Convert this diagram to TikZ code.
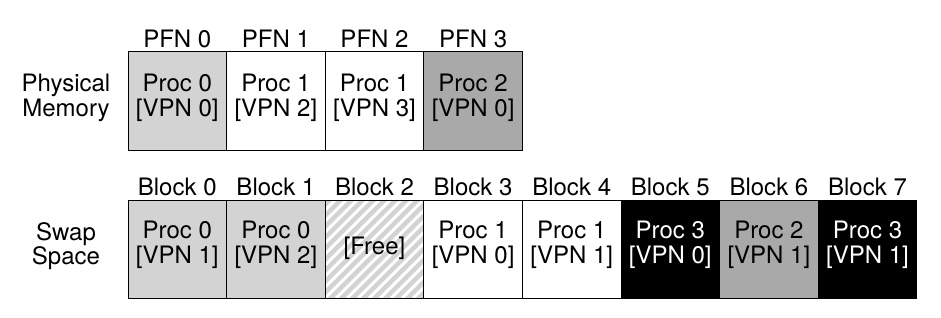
\documentclass[tikz,border=0pt]{standalone}
\usepackage{fontspec}
\setmainfont{TeX Gyre Heros}
\definecolor{pagelight}{HTML}{D3D3D3}
\definecolor{pagedark}{HTML}{A9A9A9}
\begin{document}
\begin{tikzpicture}[x=1pt,y=-1pt,
  txt/.style={font=\fontsize{24}{24.5}\selectfont, inner sep=0pt, outer sep=0pt, align=center},
  cellbox/.style={draw=black, line width=1pt, minimum width=98.6pt,
    minimum height=98pt, inner sep=0pt, outer sep=0pt, anchor=north west},
  light/.style={cellbox, fill=pagelight},
  dark/.style={cellbox, fill=pagedark},
  blank/.style={cellbox, fill=white},
  inverse/.style={cellbox, fill=black},
  rowlabel/.style={txt},
  collabel/.style={txt, anchor=base}
]
\useasboundingbox (0,0) rectangle (941,318);

% Physical memory
\node[rowlabel] (pmlabel) at (66,98) {Physical\\Memory};
\node[light]   (pfn0) at (128.0,52) {};
\node[blank]   (pfn1) at (226.6,52) {};
\node[blank]   (pfn2) at (325.2,52) {};
\node[dark]    (pfn3) at (423.8,52) {};
\node[txt] (pfntext0) at ([yshift=3pt]pfn0.center) {Proc 0\\{[VPN 0]}};
\node[txt] (pfntext1) at ([yshift=3pt]pfn1.center) {Proc 1\\{[VPN 2]}};
\node[txt] (pfntext2) at ([yshift=3pt]pfn2.center) {Proc 1\\{[VPN 3]}};
\node[txt] (pfntext3) at ([yshift=3pt]pfn3.center) {Proc 2\\{[VPN 0]}};
\foreach \i in {0,...,3}
  \node[collabel] (pfnlabel\i) at ([yshift=4.5pt]pfn\i.north) {PFN \i};

% Swap space
\node[rowlabel] (swaplabel) at (66,246) {Swap\\Space};
\node[light]   (blk0) at (128.0,200) {};
\node[light]   (blk1) at (226.6,200) {};
\node[cellbox] (blk2) at (325.2,200) {};
\node[blank]   (blk3) at (423.8,200) {};
\node[blank]   (blk4) at (522.4,200) {};
\node[inverse] (blk5) at (621.0,200) {};
\node[dark]    (blk6) at (719.6,200) {};
\node[inverse] (blk7) at (818.2,200) {};

% free block: light grey with white diagonal stripes
\begin{scope}
  \clip (blk2.south west) rectangle (blk2.north east);
  \fill[pagelight] (blk2.south west) rectangle (blk2.north east);
  \foreach \k in {-110,-99,...,110}
    \draw[white, line width=3pt] ([xshift=\k pt]blk2.south west) -- ++(110,-110);
\end{scope}
\draw[line width=1pt] (blk2.south west) rectangle (blk2.north east);

\node[txt] (blktext0) at ([yshift=4pt]blk0.center) {Proc 0\\{[VPN 1]}};
\node[txt] (blktext1) at ([yshift=4pt]blk1.center) {Proc 0\\{[VPN 2]}};
\node[txt] (blktext2) at ([yshift=1pt]blk2.center) {[Free]};
\node[txt] (blktext3) at ([yshift=4pt]blk3.center) {Proc 1\\{[VPN 0]}};
\node[txt] (blktext4) at ([yshift=4pt]blk4.center) {Proc 1\\{[VPN 1]}};
\node[txt, text=white] (blktext5) at ([yshift=4pt]blk5.center) {Proc 3\\{[VPN 0]}};
\node[txt] (blktext6) at ([yshift=4pt]blk6.center) {Proc 2\\{[VPN 1]}};
\node[txt, text=white] (blktext7) at ([yshift=4pt]blk7.center) {Proc 3\\{[VPN 1]}};

\foreach \i in {0,...,7}
  \node[collabel] (blklabel\i) at ([yshift=4.5pt]blk\i.north) {Block \i};
\end{tikzpicture}
\end{document}
